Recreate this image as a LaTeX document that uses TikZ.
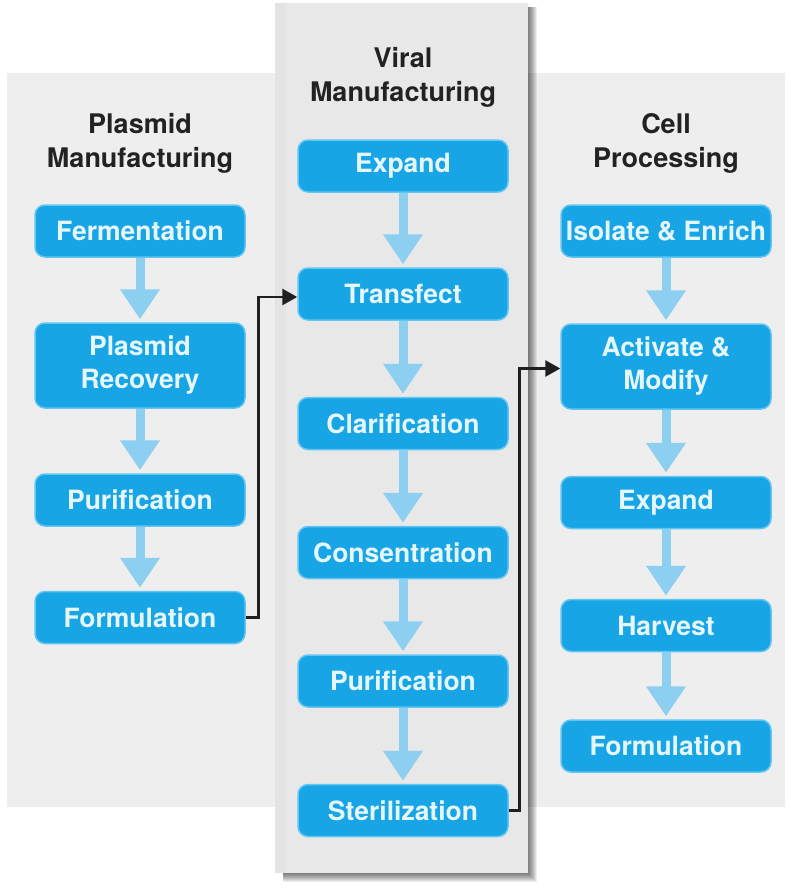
\documentclass[tikz,border=0pt]{standalone}
\usepackage{fontspec}
\setmainfont{TeX Gyre Heros}
\usetikzlibrary{arrows.meta,calc}
\definecolor{boxblue}{HTML}{17A5E6}
\definecolor{boxglow}{HTML}{62C6F2}
\definecolor{arrowblue}{HTML}{8CCFF0}
\definecolor{panelgray}{HTML}{EEEEEE}
\definecolor{midgray}{HTML}{E8E8E8}
\definecolor{boxtext}{HTML}{E6F6FD}
\definecolor{headtext}{HTML}{222222}
\begin{document}
\begin{tikzpicture}[x=1pt,y=-1pt,
  stepbox/.style={rounded corners=10pt, fill=boxblue, draw=boxglow, line width=1.5pt,
    minimum width=210pt, minimum height=52pt, inner sep=0pt, align=center, text=boxtext,
    font=\fontsize{26.5}{33}\selectfont\bfseries},
  tallbox/.style={stepbox, minimum height=85pt},
  flow/.style={draw=arrowblue, line width=9pt, -{Triangle[width=38pt,length=30pt]}, shorten >=3pt},
  link/.style={draw=black!88, line width=2.8pt, -{Triangle[width=16pt,length=15pt]}},
  heading/.style={align=center, text=headtext, font=\fontsize{27}{34}\selectfont\bfseries}]
\useasboundingbox (0,0) rectangle (790,888);
\fill[white] (0,0) rectangle (790,888);
% side panels
\fill[panelgray] (7,73) rectangle (300,807);
\fill[panelgray] (520,73) rectangle (785,807);
% middle panel shadow
\foreach \i in {1,...,11} {
  \fill[black,opacity=0.07] (283,7) rectangle (526+\i,871+\i);
}
\fill[midgray] (275,3) rectangle (528,873);
\fill[black,opacity=0.02] (275,3) rectangle (286,873);
% headings
\node[heading] (hplas) at (140,143) {Plasmid\\Manufacturing};
\node[heading] (hviral) at (403,77) {Viral\\Manufacturing};
\node[heading] (hcell) at (666,143) {Cell\\Processing};
% left column
\node[stepbox] (ferm) at (140,231) {Fermentation};
\node[tallbox] (prec) at (140,365.5) {Plasmid\\Recovery};
\node[stepbox] (lpur) at (140,500) {Purification};
\node[stepbox] (lform) at (140,617.5) {Formulation};
% middle column
\node[stepbox] (mexp) at (403,166) {Expand};
\node[stepbox] (trans) at (403,294) {Transfect};
\node[stepbox] (clar) at (403,423.5) {Clarification};
\node[stepbox] (cons) at (403,552.5) {Consentration};
\node[stepbox] (mpur) at (403,681) {Purification};
\node[stepbox] (ster) at (403,810.5) {Sterilization};
% right column
\node[stepbox] (iso) at (666,231) {Isolate \& Enrich};
\node[tallbox] (act) at (666,366.5) {Activate \&\\Modify};
\node[stepbox] (rexp) at (666,502.5) {Expand};
\node[stepbox] (harv) at (666,625.5) {Harvest};
\node[stepbox] (rform) at (666,746) {Formulation};
% flow arrows
\draw[flow] (ferm.south) -- (prec.north);
\draw[flow] (prec.south) -- (lpur.north);
\draw[flow] (lpur.south) -- (lform.north);
\draw[flow] (mexp.south) -- (trans.north);
\draw[flow] (trans.south) -- (clar.north);
\draw[flow] (clar.south) -- (cons.north);
\draw[flow] (cons.south) -- (mpur.north);
\draw[flow] (mpur.south) -- (ster.north);
\draw[flow] (iso.south) -- (act.north);
\draw[flow] (act.south) -- (rexp.north);
\draw[flow] (rexp.south) -- (harv.north);
\draw[flow] (harv.south) -- (rform.north);
% links between columns
\draw[link] (lform.east) -- ++(13,0) |- ([yshift=-3pt]trans.west);
\draw[link] (ster.east) -- ++(11,0) |- ([yshift=-2pt]act.west);
\end{tikzpicture}
\end{document}
